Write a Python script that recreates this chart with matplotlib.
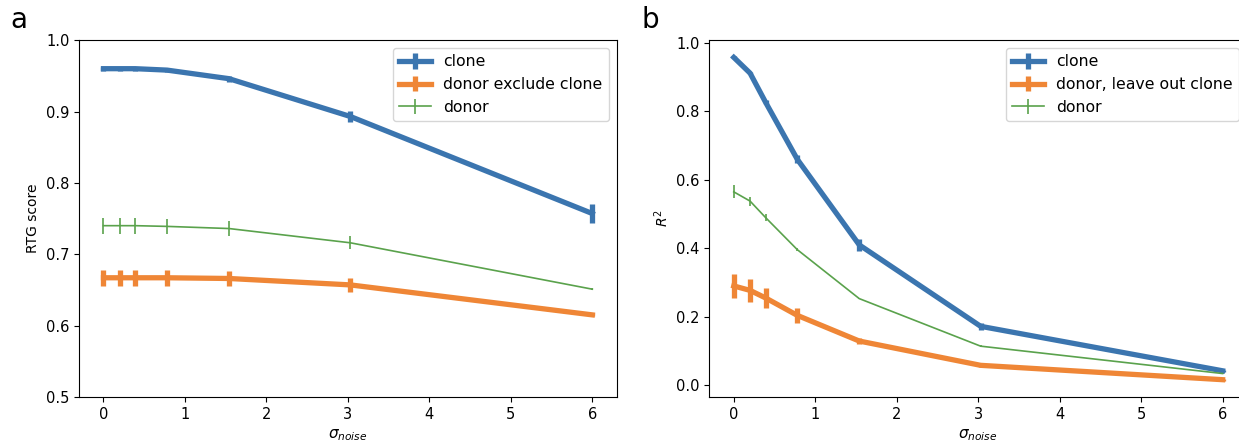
import matplotlib.pyplot as plt

# noise levels (x axis), shared by both panels
sigma_noise = [0, 0.2, 0.39, 0.78, 1.54, 3.03, 6.0]

# panel a: RTG score
rtg_clone = [0.960, 0.960, 0.960, 0.958, 0.946, 0.893, 0.757]
rtg_clone_err = [0.003, 0.003, 0.003, 0.003, 0.004, 0.008, 0.013]
rtg_excl = [0.667, 0.667, 0.667, 0.667, 0.666, 0.657, 0.615]
rtg_excl_err = [0.011, 0.011, 0.011, 0.011, 0.011, 0.010, 0.002]
rtg_donor = [0.740, 0.740, 0.740, 0.739, 0.736, 0.716, 0.651]
rtg_donor_err = [0.011, 0.011, 0.011, 0.011, 0.011, 0.009, 0.001]

# panel b: R^2
r2_clone = [0.958, 0.912, 0.827, 0.660, 0.410, 0.172, 0.042]
r2_clone_err = [0.003, 0.004, 0.006, 0.012, 0.017, 0.010, 0.003]
r2_leave = [0.290, 0.277, 0.255, 0.204, 0.129, 0.058, 0.016]
r2_leave_err = [0.036, 0.034, 0.030, 0.022, 0.010, 0.004, 0.003]
r2_donor = [0.565, 0.538, 0.490, 0.396, 0.253, 0.114, 0.034]
r2_donor_err = [0.019, 0.013, 0.010, 0.005, 0.002, 0.002, 0.001]

blue = '#3b75af'
orange = '#ef8636'
green = '#5aa24c'

fig = plt.figure(figsize=(12.39, 4.46), dpi=100)
ax1 = fig.add_axes([0.0638, 0.110, 0.434, 0.800])
ax2 = fig.add_axes([0.5725, 0.110, 0.434, 0.800])

ax1.errorbar(sigma_noise, rtg_clone, yerr=rtg_clone_err, color=blue, lw=3.8, elinewidth=3.8, label='clone')
ax1.errorbar(sigma_noise, rtg_excl, yerr=rtg_excl_err, color=orange, lw=3.8, elinewidth=3.8,
             label='donor exclude clone')
ax1.errorbar(sigma_noise, rtg_donor, yerr=rtg_donor_err, color=green, lw=1.2, elinewidth=1.2, label='donor')
ax1.set_ylim(0.5, 1.0)
ax1.set_xticks(range(7))
ax1.set_ylabel('RTG score', fontsize=10)
ax1.set_xlabel(r'$\sigma_{noise}$', fontsize=11)
ax1.legend(loc='upper right', fontsize=11.3)

ax2.errorbar(sigma_noise, r2_clone, yerr=r2_clone_err, color=blue, lw=3.8, elinewidth=3.8, label='clone')
ax2.errorbar(sigma_noise, r2_leave, yerr=r2_leave_err, color=orange, lw=3.8, elinewidth=3.8,
             label='donor, leave out clone')
ax2.errorbar(sigma_noise, r2_donor, yerr=r2_donor_err, color=green, lw=1.2, elinewidth=1.2, label='donor')
ax2.set_xticks(range(7))
ax2.set_ylabel(r'$R^2$', fontsize=10)
ax2.set_xlabel(r'$\sigma_{noise}$', fontsize=11)
ax2.legend(loc='upper right', fontsize=11.3)

for ax in (ax1, ax2):
    ax.tick_params(labelsize=10.5)

fig.text(0.008, 0.955, 'a', fontsize=20, va='center')
fig.text(0.518, 0.955, 'b', fontsize=20, va='center')

fig.savefig('out.png', dpi=100)
